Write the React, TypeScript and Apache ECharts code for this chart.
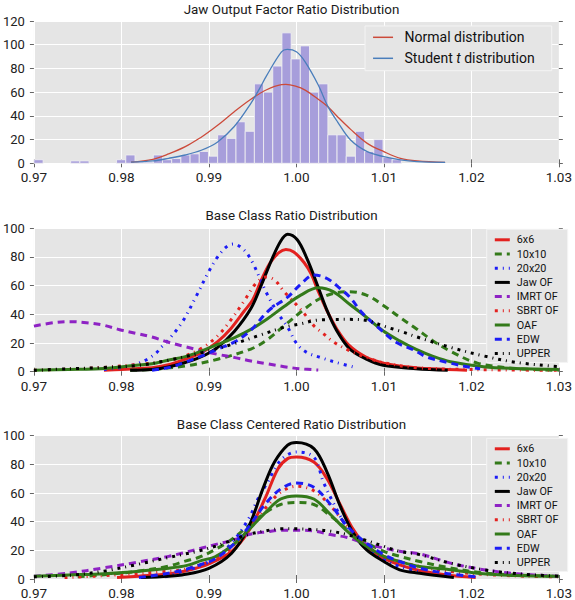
import React, { useEffect, useRef } from 'react';
import * as echarts from 'echarts';

// ---------- data ----------
const titles = [
  'Jaw Output Factor Ratio Distribution',
  'Base Class Ratio Distribution',
  'Base Class Centered Ratio Distribution',
];

const histStart = 0.97;
const histBinWidth = 0.00105;
const histCounts = [3, 0, 0, 0, 2, 2, 0, 0, 0, 3, 7, 1, 1, 7, 3, 4, 7, 8, 10, 6, 24, 21, 35, 27, 67, 60, 82, 110, 88, 99, 60, 67, 24, 24, 6, 27, 10, 20, 5, 3];

const normalCurve = [[0.9811, 1], [0.9836, 3.4], [0.9854, 7.9], [0.9873, 14], [0.9892, 22.4], [0.990, 26.6], [0.991, 32], [0.9929, 43.5], [0.9948, 54], [0.9966, 62], [0.9983, 66.3], [0.9988, 66.5], [0.9999, 65], [1.001, 61.7], [1.0025, 54], [1.0036, 47.7], [1.0047, 39.3], [1.0062, 28.6], [1.0081, 16.8], [1.010, 9.8], [1.0119, 4.2], [1.0138, 2], [1.017, 0.8]];
const studentCurve = [[0.9811, 1], [0.9836, 2], [0.9854, 4.2], [0.9873, 7], [0.9892, 11.2], [0.991, 18], [0.9929, 31], [0.9948, 50.5], [0.9959, 64.5], [0.9966, 74], [0.9983, 94], [0.99895, 96], [1.0, 94], [1.001, 85.5], [1.0025, 66], [1.0036, 48], [1.0047, 35], [1.0062, 19.6], [1.0081, 9.8], [1.010, 5.6], [1.0119, 2.8], [1.0138, 1.4], [1.017, 0.8]];

const classNames = ['6x6', '10x10', '20x20', 'Jaw OF', 'IMRT OF', 'SBRT OF', 'OAF', 'EDW', 'UPPER'];

// Base Class Ratio Distribution
const ratio6x6 = [[0.978, 1], [0.980, 1.6], [0.982, 2.3], [0.9835, 2.8], [0.9855, 5], [0.9873, 8.7], [0.9892, 13.4], [0.991, 21], [0.9925, 30], [0.994, 42], [0.995, 50], [0.996, 64], [0.997, 76], [0.998, 83], [0.9988, 85.2], [0.9997, 83.5], [1.0009, 76], [1.0017, 68], [1.0025, 56], [1.0035, 42.5], [1.0046, 30], [1.006, 18.5], [1.008, 10], [1.010, 6], [1.0125, 3.5], [1.0155, 2], [1.0195, 1]];
const ratio10x10 = [[0.981, 1], [0.9835, 1.6], [0.9873, 4], [0.991, 8.7], [0.9948, 15.8], [0.9966, 22], [0.9986, 32], [1.0005, 41.6], [1.0024, 50], [1.0042, 54.6], [1.0061, 55.8], [1.008, 53.4], [1.0099, 46.4], [1.0118, 38], [1.0137, 30], [1.0155, 22], [1.0177, 14], [1.0207, 6], [1.0251, 2.2], [1.030, 1]];
const ratio20x20 = [[0.978, 1.5], [0.980, 3], [0.982, 6], [0.9837, 11.6], [0.9847, 18], [0.9855, 23], [0.987, 35], [0.9885, 52], [0.990, 70], [0.991, 80], [0.992, 87], [0.9928, 89], [0.994, 85], [0.995, 76], [0.9965, 56], [0.9978, 41.6], [0.999, 31], [1.0001, 19], [1.0012, 13.4], [1.0027, 10], [1.0046, 6.4], [1.0067, 3]];
const ratioJaw = [[0.981, 1], [0.9835, 1.6], [0.9855, 3.5], [0.9873, 6.4], [0.9892, 10.6], [0.991, 17], [0.9929, 28], [0.9948, 44], [0.996, 60.5], [0.9971, 77], [0.9982, 91], [0.999, 95.8], [1.0001, 92], [1.0012, 79], [1.0024, 60.5], [1.0035, 42.8], [1.0046, 28.7], [1.0061, 15.8], [1.008, 8.7], [1.0099, 4.5], [1.0137, 2.1], [1.0173, 1]];
const ratioIMRT = [[0.970, 31.8], [0.9723, 34.2], [0.9741, 34.9], [0.976, 34.2], [0.9779, 32.5], [0.9798, 29.3], [0.9817, 26.7], [0.9836, 24], [0.9854, 20.5], [0.9873, 17.5], [0.9892, 14.5], [0.9911, 12], [0.993, 9.8], [0.9948, 7.5], [0.9967, 5.5], [0.9986, 3.5], [1.0005, 2], [1.0025, 1.2]];
const ratioSBRT = [[0.970, 1], [0.974, 1.8], [0.978, 3], [0.9817, 5], [0.9835, 6], [0.9855, 8], [0.9873, 11], [0.9892, 16.5], [0.991, 25], [0.9925, 36], [0.994, 49], [0.9953, 61], [0.9965, 66], [0.9975, 64], [0.9986, 55.8], [0.9997, 48.7], [1.0009, 40.5], [1.002, 32], [1.0031, 26.4], [1.0043, 20.5], [1.0061, 14.6], [1.008, 10], [1.0099, 6.4], [1.0137, 2.8], [1.020, 1.5], [1.030, 1]];
const ratioOAF = [[0.970, 1], [0.974, 1.5], [0.978, 2.3], [0.9817, 4.5], [0.9835, 5.5], [0.9854, 8.2], [0.9873, 10.5], [0.9892, 14.5], [0.991, 19], [0.993, 24], [0.9948, 29.5], [0.9967, 37], [0.9986, 45.5], [1.0005, 53.4], [1.0025, 58.5], [1.0042, 55.8], [1.0062, 46.5], [1.008, 38], [1.0099, 28.5], [1.0118, 21.5], [1.0137, 15.5], [1.0157, 10.5], [1.0176, 7], [1.0214, 3.5], [1.025, 2.2], [1.030, 1.5]];
const ratioEDW = [[0.9835, 1], [0.9855, 3], [0.987, 6], [0.9892, 11], [0.9911, 16], [0.993, 21], [0.9948, 29], [0.9969, 43], [0.999, 52], [1.0005, 61], [1.002, 67.5], [1.0035, 65], [1.005, 58], [1.0061, 52], [1.0076, 40.5], [1.0095, 30], [1.0114, 20.5], [1.0135, 15], [1.0148, 10.5], [1.0176, 6], [1.0195, 3.5], [1.021, 2]];
const ratioUPPER = [[0.970, 1], [0.974, 2], [0.978, 3], [0.9817, 4.2], [0.9854, 8], [0.9892, 13.3], [0.993, 19.7], [0.9956, 25], [0.9986, 31], [1.0005, 33.4], [1.0025, 36], [1.0061, 36.5], [1.0082, 35.5], [1.0101, 31.5], [1.012, 28], [1.0139, 24], [1.0176, 17], [1.0214, 11], [1.0251, 6.5], [1.030, 3.5]];

// Base Class Centered Ratio Distribution
const centered6x6 = [[0.9795, 1], [0.982, 2], [0.9854, 3.5], [0.9869, 5], [0.9885, 7.5], [0.990, 10.5], [0.9926, 19.3], [0.9945, 33], [0.9964, 56], [0.9979, 77], [0.999, 84], [1.000, 85.2], [1.002, 81.6], [1.0035, 70], [1.005, 52], [1.0065, 34.6], [1.008, 22.8], [1.010, 14.6], [1.0118, 9.9], [1.0141, 5.9], [1.017, 3], [1.0205, 1]];
const centered10x10 = [[0.975, 1.5], [0.978, 3], [0.9817, 5.3], [0.9854, 9], [0.9873, 12.5], [0.9888, 15], [0.9907, 20.5], [0.9926, 27.5], [0.9945, 37], [0.9964, 46], [0.9982, 52], [1.000, 53.4], [1.002, 52], [1.0039, 44], [1.0058, 34.6], [1.0077, 26.4], [1.010, 19.3], [1.0118, 15.8], [1.0141, 12.2], [1.0176, 7.7], [1.0214, 4.2], [1.025, 2.8], [1.030, 1.9]];
const centered20x20 = [[0.985, 1.5], [0.9869, 5.2], [0.9888, 8.7], [0.9907, 14.6], [0.9926, 25], [0.9945, 41.6], [0.9956, 55.8], [0.9967, 67.5], [0.9982, 82.8], [1.000, 88.7], [1.002, 85], [1.0031, 67.5], [1.0046, 48.7], [1.0062, 32], [1.008, 21.6], [1.010, 13.4], [1.0118, 8.7], [1.0141, 5.2]];
const centeredJaw = [[0.9822, 1], [0.9854, 2], [0.9869, 2.8], [0.990, 7.5], [0.9926, 18], [0.9945, 35.8], [0.9963, 65], [0.9975, 81.6], [0.999, 93.4], [1.000, 95.3], [1.002, 91], [1.0035, 74.6], [1.005, 51], [1.0065, 32], [1.008, 20.5], [1.010, 12.2], [1.0118, 6.4], [1.0141, 4], [1.018, 1]];
const centeredIMRT = [[0.970, 1.9], [0.9741, 4.2], [0.9779, 7.7], [0.9817, 11.6], [0.9854, 15.8], [0.9869, 18], [0.9892, 21.6], [0.9907, 24], [0.9929, 27.4], [0.9945, 31], [0.9967, 33], [0.9982, 34], [1.000, 34], [1.002, 33.5], [1.0039, 31], [1.0058, 29], [1.0077, 25], [1.010, 21.6], [1.0118, 19.3], [1.0141, 17.5], [1.0176, 11.1], [1.0214, 6.5], [1.0252, 3.7], [1.030, 1.9]];
const centeredSBRT = [[0.9735, 1], [0.977, 2], [0.981, 3.5], [0.9845, 5], [0.9869, 6.4], [0.989, 10], [0.9907, 13.4], [0.9926, 22], [0.9945, 34], [0.9964, 49], [0.9982, 60.5], [1.000, 64.7], [1.002, 61.6], [1.0039, 51], [1.0058, 37], [1.0077, 25], [1.010, 15.8], [1.0141, 8.7], [1.018, 5], [1.022, 3], [1.026, 2], [1.030, 1.5]];
const centeredOAF = [[0.970, 1.9], [0.974, 2.8], [0.978, 3.7], [0.9817, 5.3], [0.9854, 7.5], [0.9875, 9.5], [0.9892, 13], [0.9907, 15.5], [0.9926, 23], [0.9945, 34], [0.9964, 46], [0.9982, 55.8], [1.000, 58], [1.002, 55.8], [1.0039, 45], [1.0058, 33.4], [1.0077, 24], [1.010, 15.8], [1.0118, 12.2], [1.0141, 8.7], [1.0176, 6.5], [1.0214, 3.7], [1.025, 2.5], [1.030, 1.9]];
const centeredEDW = [[0.982, 1], [0.9854, 4], [0.9869, 6], [0.9888, 9.5], [0.9907, 14], [0.9926, 23], [0.9945, 36], [0.9964, 52], [0.9982, 62.8], [1.000, 67], [1.002, 64], [1.0039, 52], [1.0058, 37], [1.0077, 26.4], [1.010, 17], [1.0118, 12.2], [1.0141, 7.5], [1.017, 4], [1.0205, 1.5]];
const centeredUPPER = [[0.970, 1.5], [0.9741, 2.6], [0.978, 5.5], [0.9817, 10], [0.9854, 15], [0.9869, 17], [0.9888, 19.5], [0.9907, 22.8], [0.9926, 27], [0.9945, 31], [0.9964, 33.5], [0.9982, 35], [1.000, 35], [1.002, 34.5], [1.0039, 33.4], [1.0058, 31], [1.0077, 27.5], [1.010, 22.8], [1.0118, 19.3], [1.0141, 17], [1.0176, 11], [1.0214, 6.5], [1.0252, 3.7], [1.030, 1.9]];

const ratioSeries = [ratio6x6, ratio10x10, ratio20x20, ratioJaw, ratioIMRT, ratioSBRT, ratioOAF, ratioEDW, ratioUPPER];
const centeredSeries = [centered6x6, centered10x10, centered20x20, centeredJaw, centeredIMRT, centeredSBRT, centeredOAF, centeredEDW, centeredUPPER];

// ---------- styles ----------
const FONT = 'Roboto';
const RED = '#E3211F';
const GREEN = '#337A1A';
const BLUE = '#1C1CF5';
const BLACK = '#000000';
const PURPLE = '#8E22C4';
const DASHED = [7, 5];
const DASHDOT = [3, 5, 1, 5];
const classStyles = [
  { color: RED, type: 'solid' },
  { color: GREEN, type: DASHED },
  { color: BLUE, type: DASHDOT },
  { color: BLACK, type: 'solid' },
  { color: PURPLE, type: DASHED },
  { color: RED, type: DASHDOT },
  { color: GREEN, type: 'solid' },
  { color: BLUE, type: DASHED },
  { color: BLACK, type: DASHDOT },
];

const GRID_LEFT = 30;
const GRID_WIDTH = 531;
const grids = [
  { top: 21, height: 142.3 },
  { top: 228.3, height: 143.4 },
  { top: 435.7, height: 143.6 },
];
const titleY = [9, 215.5, 424];
const yMax = [120, 100, 100];

function buildOption() {
  const gridOpts = grids.map((g) => ({
    left: GRID_LEFT,
    width: GRID_WIDTH,
    top: g.top,
    height: g.height,
    show: true,
    backgroundColor: '#E5E5E5',
    borderWidth: 0,
    containLabel: false,
  }));

  const tickStyle = { show: true, inside: false, length: 4, lineStyle: { color: '#666', width: 1 } };
  const xAxes: any[] = [];
  const yAxes: any[] = [];
  grids.forEach((_, i) => {
    xAxes.push({
      type: 'value', gridIndex: i, min: 0.97, max: 1.03, interval: 0.01, position: 'bottom',
      axisLine: { show: false }, axisTick: tickStyle,
      axisLabel: { show: true, fontSize: 13.5, lineHeight: 14, fontFamily: FONT, color: '#222', margin: 7, formatter: (v: number) => v.toFixed(2) },
      splitLine: { show: true, lineStyle: { color: '#FFFFFF', width: 1 } },
    });
    xAxes.push({
      type: 'value', gridIndex: i, min: 0.97, max: 1.03, interval: 0.01, position: 'top',
      axisLine: { show: false }, axisTick: tickStyle, axisLabel: { show: false }, splitLine: { show: false },
    });
    yAxes.push({
      type: 'value', gridIndex: i, min: 0, max: yMax[i], interval: 20, position: 'left',
      axisLine: { show: false }, axisTick: tickStyle,
      axisLabel: { show: true, fontSize: 13, lineHeight: 12, fontFamily: FONT, color: '#222', margin: 9 },
      splitLine: { show: true, lineStyle: { color: '#FFFFFF', width: 1 } },
    });
    yAxes.push({
      type: 'value', gridIndex: i, min: 0, max: yMax[i], interval: 20, position: 'right',
      axisLine: { show: false }, axisTick: tickStyle, axisLabel: { show: false }, splitLine: { show: false },
    });
  });

  const histData = histCounts
    .map((c, i) => [histStart + i * histBinWidth, histStart + (i + 1) * histBinWidth, c])
    .filter((d) => d[2] > 0);

  const series: any[] = [];
  series.push({
    type: 'custom',
    name: 'hist',
    xAxisIndex: 0,
    yAxisIndex: 0,
    data: histData,
    encode: { x: [0, 1], y: 2 },
    renderItem: (params: any, api: any) => {
      const p0 = api.coord([api.value(0), api.value(2)]);
      const p1 = api.coord([api.value(1), 0]);
      return {
        type: 'rect',
        shape: { x: p0[0], y: p0[1], width: p1[0] - p0[0], height: p1[1] - p0[1] },
        style: { fill: '#A79EDB', stroke: '#F2F2F2', lineWidth: 0.8 },
      };
    },
    z: 1,
  });
  series.push({
    type: 'line', name: 'Normal distribution', xAxisIndex: 0, yAxisIndex: 0, data: normalCurve,
    symbol: 'none', smooth: 0.35, lineStyle: { color: '#CC4A3A', width: 1.3 }, itemStyle: { color: '#CC4A3A' }, z: 3,
  });
  series.push({
    type: 'line', name: 'Student t distribution', xAxisIndex: 0, yAxisIndex: 0, data: studentCurve,
    symbol: 'none', smooth: 0.35, lineStyle: { color: '#4A7EBB', width: 1.3 }, itemStyle: { color: '#4A7EBB' }, z: 3,
  });

  [ratioSeries, centeredSeries].forEach((set, k) => {
    set.forEach((data, j) => {
      const st = classStyles[j];
      series.push({
        type: 'line',
        name: classNames[j],
        xAxisIndex: (k + 1) * 2,
        yAxisIndex: (k + 1) * 2,
        data,
        symbol: 'none',
        smooth: 0.35,
        clip: true,
        lineStyle: { color: st.color, width: 3, type: st.type, cap: 'butt', join: 'round' },
        itemStyle: { color: st.color },
        z: 3 + j,
      });
    });
  });

  const classLegend = (top: number) => ({
    orient: 'vertical',
    left: 486.7,
    top,
    data: classNames,
    selectedMode: false,
    itemWidth: 15,
    itemHeight: 12,
    itemGap: 2.2,
    padding: [4.5, 9, 3, 6.6],
    backgroundColor: '#E5E5E5',
    borderColor: '#F4F4F4',
    borderWidth: 1,
    itemStyle: { color: 'rgba(0,0,0,0)', borderWidth: 0 },
    lineStyle: { width: 3 },
    textStyle: { fontSize: 10.8, fontFamily: FONT, color: '#111', lineHeight: 12, padding: [0, 0, 0, 2] },
  });

  return {
    animation: false,
    textStyle: { fontFamily: FONT },
    grid: gridOpts,
    xAxis: xAxes,
    yAxis: yAxes,
    legend: [
      {
        orient: 'vertical',
        left: 365,
        top: 26,
        data: ['Normal distribution', 'Student t distribution'],
        selectedMode: false,
        itemWidth: 20,
        itemHeight: 16,
        itemGap: 5,
        padding: [3.3, 17, 4.4, 7.3],
        backgroundColor: '#E5E5E5',
        borderColor: '#F4F4F4',
        borderWidth: 1,
        itemStyle: { color: 'rgba(0,0,0,0)', borderWidth: 0 },
        lineStyle: { width: 1.5 },
        formatter: (name: string) => (name === 'Student t distribution' ? 'Student {i|t} distribution' : name),
        textStyle: {
          fontSize: 14, fontFamily: FONT, color: '#111', lineHeight: 16, padding: [0, 0, 0, 6.5],
          rich: { i: { fontStyle: 'italic', fontSize: 14, fontFamily: FONT, color: '#111', lineHeight: 16 } },
        },
      },
      classLegend(229.3),
      classLegend(438.3),
    ],
    graphic: titles.map((t, i) => ({
      type: 'text',
      x: GRID_LEFT + GRID_WIDTH / 2 - 4,
      y: titleY[i],
      style: { text: t, fontSize: 13.4, fontFamily: FONT, fontWeight: 'normal', fill: '#1a1a1a', align: 'center', verticalAlign: 'middle' },
    })),
    series,
  };
}

export default function App() {
  const ref = useRef<HTMLDivElement>(null);
  useEffect(() => {
    if (!ref.current) return;
    const chart = echarts.init(ref.current, undefined, { renderer: 'svg' });
    chart.setOption(buildOption() as any);
    return () => chart.dispose();
  }, []);
  return (
    <div
      ref={ref}
      style={{ position: 'absolute', left: 0, top: 0, width: 575, height: 600, background: '#FFFFFF' }}
    />
  );
}
